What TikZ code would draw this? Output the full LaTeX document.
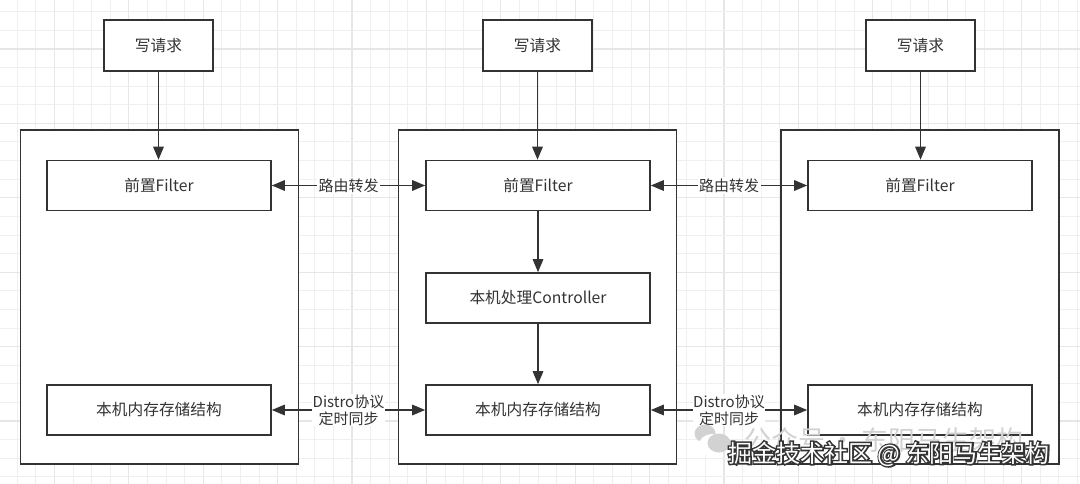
\documentclass[tikz,border=0pt]{standalone}
\usepackage{fontspec}
\setmainfont{Noto Sans CJK SC}
\usetikzlibrary{arrows.meta}
\definecolor{ink}{HTML}{333333}
\definecolor{gridminor}{HTML}{EFEFEF}
\definecolor{gridmajor}{HTML}{E6E6E6}
\definecolor{wmgrey}{HTML}{D2D2D2}
\newcommand{\wmtext}{掘金技术社区 @ 东阳马生架构}
\begin{document}
\begin{tikzpicture}[x=1pt,y=-1pt,
  box/.style={draw=ink, line width=1.6pt, fill=white, inner sep=0pt,
    text=ink, font=\fontsize{15.7}{18}\selectfont},
  outerbox/.style={draw=ink, line width=1.6pt, fill=white,
    minimum width=278pt, minimum height=334pt},
  wide/.style={box, minimum width=224pt, minimum height=50pt},
  reqbox/.style={box, minimum width=109pt, minimum height=51pt},
  conn/.style={draw=ink, line width=1.6pt, -{Triangle[length=13pt,width=10.5pt]}},
  dconn/.style={draw=ink, line width=1.6pt,
    {Triangle[length=13pt,width=10.5pt]}-{Triangle[length=13pt,width=10.5pt]}},
  lbl/.style={fill=white, inner sep=1.5pt, text=ink,
    font=\fontsize{15}{17}\selectfont, align=center}
]
\useasboundingbox (0,0) rectangle (1080,484);
\fill[white] (0,0) rectangle (1080,484);
% grid
\foreach \k in {0,...,57} {
  \pgfmathsetmacro\xx{17.2+18.6*\k}
  \pgfmathtruncatemacro\mm{mod(\k,4)}
  \ifnum\mm=2
    \draw[gridmajor, line width=1.2pt] (\xx,0) -- (\xx,484);
  \else
    \draw[gridminor, line width=1pt] (\xx,0) -- (\xx,484);
  \fi
}
\foreach \k in {0,...,25} {
  \pgfmathsetmacro\yy{11.8+18.6*\k}
  \pgfmathtruncatemacro\mm{mod(\k,4)}
  \ifnum\mm=2
    \draw[gridmajor, line width=1.2pt] (0,\yy) -- (1080,\yy);
  \else
    \draw[gridminor, line width=1pt] (0,\yy) -- (1080,\yy);
  \fi
}
% outer boxes
\node[outerbox] (outL) at (159.5,297) {};
\node[outerbox] (outM) at (537.5,297) {};
\node[outerbox] (outR) at (920,297) {};
% request boxes
\node[reqbox] (reqL) at (158.5,45.5) {写请求};
\node[reqbox] (reqM) at (537.5,45.5) {写请求};
\node[reqbox] (reqR) at (920.5,45.5) {写请求};
% filters
\node[wide] (filL) at (159,185.5) {前置Filter};
\node[wide] (filM) at (538,185.5) {前置Filter};
\node[wide] (filR) at (920,185.5) {前置Filter};
% controller
\node[wide] (ctrl) at (538,298) {本机处理Controller};
% storage
\node[wide] (stoL) at (159,410) {本机内存存储结构};
\node[wide] (stoM) at (538,410) {本机内存存储结构};
\node[wide] (stoR) at (920,410) {本机内存存储结构};
% vertical arrows
\draw[conn] (reqL.south) -- (reqL.south |- filL.north);
\draw[conn] (reqM.south) -- (reqM.south |- filM.north);
\draw[conn] (reqR.south) -- (reqR.south |- filR.north);
\draw[conn] (filM.south) -- (ctrl.north);
\draw[conn] (ctrl.south) -- (stoM.north);
% horizontal arrows
\draw[dconn] (filL.east) -- node[lbl] (lblA) {路由转发} (filM.west);
\draw[dconn] (filM.east) -- node[lbl] (lblB) {路由转发} (filR.west);
\draw[dconn] (stoL.east) -- node[lbl, inner sep=0.5pt] (lblC) {Distro协议\\定时同步} (stoM.west);
\draw[dconn] (stoM.east) -- node[lbl, inner sep=0.5pt] (lblD) {Distro协议\\定时同步} (stoR.west);
% watermark
\fill[wmgrey] (705,433.5) ellipse (10.5pt and 9pt);
\fill[white] (712,445) ellipse (13pt and 11pt);
\fill[wmgrey] (719,443) ellipse (11.5pt and 9.5pt);
\node[text=wmgrey, anchor=west, inner sep=0pt, font=\fontsize{27}{30}\selectfont] (wm1) at (744,440) {公众号\,·\,东阳马生架构};
\node[anchor=west, inner sep=0pt, font=\fontsize{24}{28}\selectfont] (wm2) at (728,454)
  {\rlap{\color{ink}\special{pdf:literal direct 2 Tr 3 w 0.2 0.2 0.2 RG}\wmtext\special{pdf:literal direct 0 Tr}}\textcolor{white}{\wmtext}};
\end{tikzpicture}
\end{document}
